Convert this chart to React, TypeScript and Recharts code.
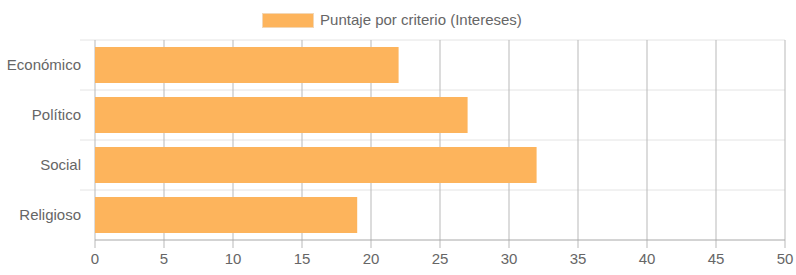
import { Bar, BarChart, CartesianGrid, Legend, XAxis, YAxis } from "recharts"

const categories = ["Económico", "Político", "Social", "Religioso"]
const scores = [22, 27, 32, 19]
const xTicks = [0, 5, 10, 15, 20, 25, 30, 35, 40, 45, 50]
const seriesName = "Puntaje por criterio (Intereses)"

const data = categories.map((name, i) => ({ name, value: scores[i] }))

const font = "'Liberation Sans', Arial, Helvetica, sans-serif"

const hLine = (p: any) => (
  <line key={`h${p.index}`} x1={p.x1 - 15} y1={p.y1} x2={p.x2} y2={p.y2} stroke="#e4e4e4" strokeWidth={1} />
)

const vLine = (p: any) => (
  <line key={`v${p.index}`} x1={p.x1} y1={p.y1} x2={p.x2} y2={p.y2 + 8} stroke="#b9b9b9" strokeWidth={1} />
)

const renderLegend = () => (
  <div style={{ display: "flex", justifyContent: "center", alignItems: "center", fontFamily: font, fontSize: 15, color: "#666", lineHeight: "16px" }}>
    <span style={{ width: 50, height: 13, background: "#fdb45c", border: "1px solid #f3d7b5", marginRight: 6 }} />
    <span>{seriesName}</span>
  </div>
)

export default function App() {
  return (
    <div style={{ position: "absolute", left: 0, top: 0 }}>
      <BarChart
        width={796}
        height={275}
        data={data}
        layout="vertical"
        margin={{ top: 24, right: 11, left: 0, bottom: 5 }}
        barCategoryGap="14%"
      >
        <CartesianGrid
          vertical={false}
          horizontal={hLine}
          horizontalCoordinatesGenerator={({ offset }: any) =>
            categories.map((_, i) => offset.top + (i * offset.height) / categories.length)
          }
        />
        <CartesianGrid horizontal={false} vertical={vLine} />
        <Legend verticalAlign="top" content={renderLegend} wrapperStyle={{ top: 12, left: -6, width: 796 }} />
        <XAxis
          type="number"
          domain={[0, 50]}
          ticks={xTicks}
          interval={0}
          tickLine={false}
          tickSize={6}
          tickMargin={7}
          height={30}
          axisLine={{ stroke: "#a8a8a8" }}
          tick={{ fill: "#666", fontSize: 15, fontFamily: font }}
        />
        <YAxis
          type="category"
          dataKey="name"
          width={95}
          tickLine={false}
          axisLine={false}
          tickSize={6}
          tickMargin={8}
          tick={{ fill: "#666", fontSize: 15, fontFamily: font }}
        />
        <Bar dataKey="value" name={seriesName} fill="#fdb45c" isAnimationActive={false} />
      </BarChart>
    </div>
  )
}
